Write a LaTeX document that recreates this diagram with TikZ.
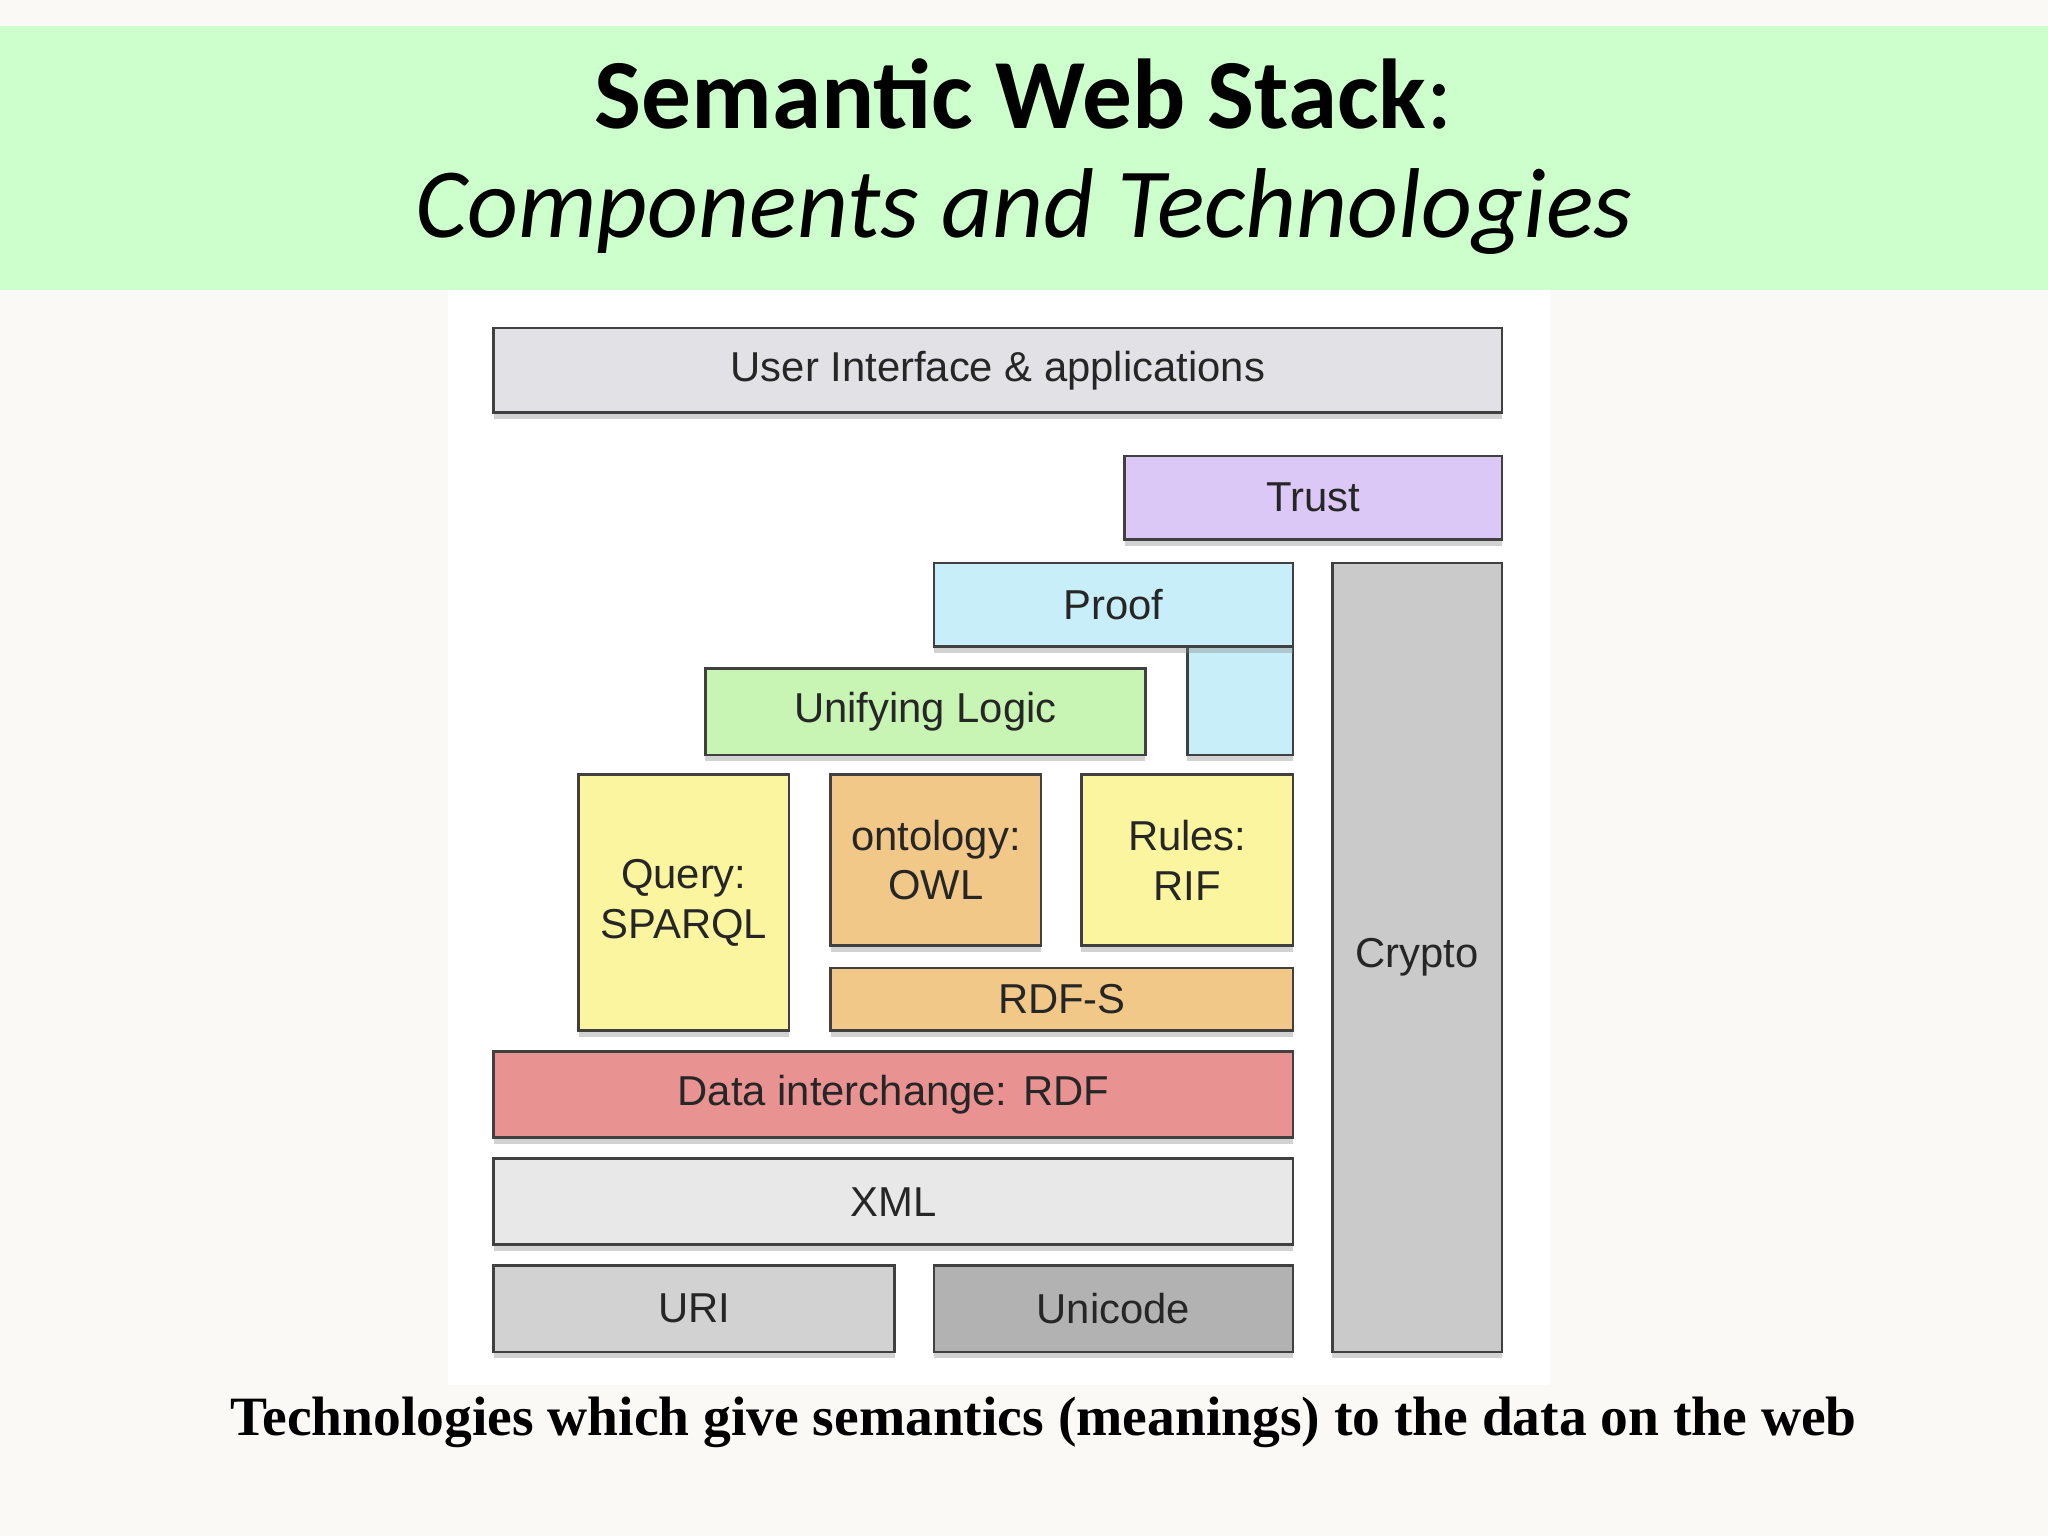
\documentclass[tikz,border=0pt]{standalone}
\usepackage{fontspec}
\setmainfont{Liberation Sans}
\newfontfamily\titlefont{Carlito}
\newfontfamily\capfont{Liberation Serif}
\usetikzlibrary{shadows}
\definecolor{bg}{HTML}{FAF9F5}
\definecolor{band}{HTML}{CCFFCC}
\definecolor{cUI}{HTML}{E2E1E6}
\definecolor{cTrust}{HTML}{DCC8F7}
\definecolor{cProof}{HTML}{C8EEFA}
\definecolor{cCrypto}{HTML}{CACACA}
\definecolor{cLogic}{HTML}{C8F5B4}
\definecolor{cYel}{HTML}{FBF5A0}
\definecolor{cOrg}{HTML}{F2C888}
\definecolor{cRed}{HTML}{E99292}
\definecolor{cXML}{HTML}{E8E8E8}
\definecolor{cURI}{HTML}{D2D2D2}
\definecolor{cUni}{HTML}{B2B2B2}
\tikzset{
  box/.style={draw=black!75, line width=2pt, inner sep=0pt, align=center,
    font=\fontsize{32}{38}\selectfont, text=black!85,
    drop shadow={shadow xshift=0pt, shadow yshift=-5pt, opacity=0.35}},
}
\begin{document}
\begin{tikzpicture}[x=1pt,y=1pt]
\fill[bg] (0,0) rectangle (1568,-1176);
\useasboundingbox (0,0) rectangle (1568,-1176);
\fill[band] (0,-20) rectangle (1568,-222);
\fill[white] (343,-222) rectangle (1187,-1060);
\node (t1) at (784,-72) {\titlefont\fontsize{76}{80}\selectfont\bfseries Semantic Web Stack\mdseries:};
\node (t2) at (784,-162) {\titlefont\fontsize{76}{80}\selectfont\itshape Components and Technologies};
\node[box, fill=cUI, minimum width=772, minimum height=65] (ui) at (764,-283.5) {User Interface \& applications};
\node[box, fill=cTrust, minimum width=289, minimum height=64] (trust) at (1005.5,-381) {Trust};
\node[box, fill=cProof, minimum width=81, minimum height=83] (proofb) at (949.5,-536.5) {};
\node[box, fill=cProof, minimum width=275, minimum height=64] (proof) at (852.5,-463) {Proof};
\node[box, fill=cCrypto, minimum width=130, minimum height=604] (crypto) at (1085,-733) {Crypto};
\node[box, fill=cLogic, minimum width=337, minimum height=66] (logic) at (708.5,-545) {Unifying Logic};
\node[box, fill=cYel, minimum width=161, minimum height=196] (query) at (523.5,-691) {Query:\\SPARQL};
\node[box, fill=cOrg, minimum width=161, minimum height=131] (owl) at (716.5,-658.5) {ontology:\\OWL};
\node[box, fill=cYel, minimum width=162, minimum height=131] (rif) at (909,-658.5) {Rules:\\RIF};
\node[box, fill=cOrg, minimum width=354, minimum height=48] (rdfs) at (813,-765) {RDF-S};
\node[box, fill=cRed, minimum width=612, minimum height=66] (rdf) at (684,-838) {Data interchange: RDF};
\node[box, fill=cXML, minimum width=612, minimum height=66] (xml) at (684,-920) {XML};
\node[box, fill=cURI, minimum width=307, minimum height=66] (uri) at (531.5,-1002) {URI};
\node[box, fill=cUni, minimum width=275, minimum height=66] (uni) at (852.5,-1002) {Unicode};
\node (cap) at (799,-1089) {\capfont\fontsize{42.5}{46}\selectfont\bfseries Technologies which give semantics (meanings) to the data on the web};
\end{tikzpicture}
\end{document}
